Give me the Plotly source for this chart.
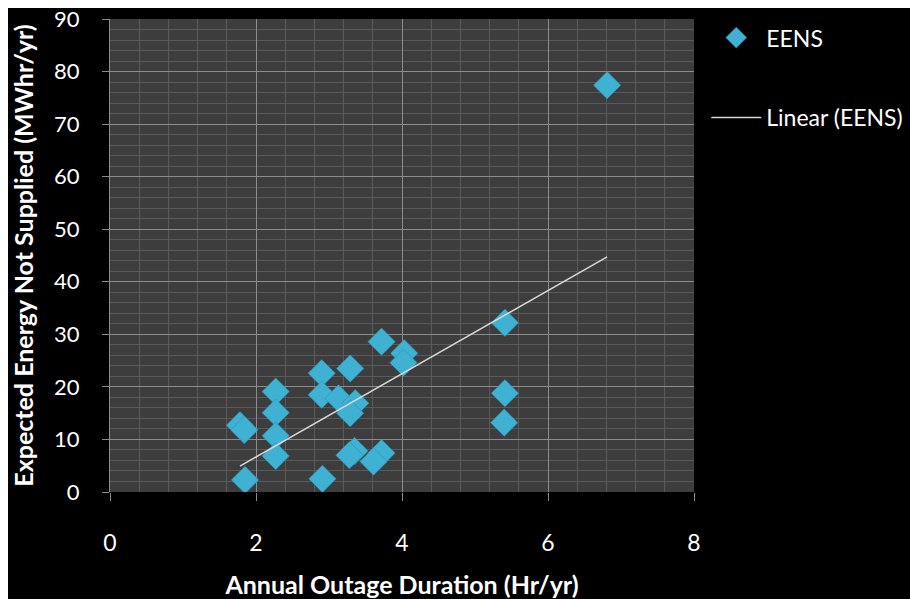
import numpy as np
import plotly.graph_objects as go

# Data
outage_hr = [6.81, 5.41, 5.41, 5.40, 3.72, 4.03, 4.02, 3.29, 2.90, 2.90, 3.13, 3.36, 3.29,
             2.27, 2.27, 2.27, 2.27, 1.78, 1.84, 1.85, 2.91, 3.35, 3.28, 3.72, 3.61]
eens_mwh = [77.4, 32.2, 18.8, 13.2, 28.6, 26.4, 24.6, 23.5, 22.6, 18.5, 17.8, 16.9, 15.0,
            19.1, 15.1, 10.7, 6.85, 12.7, 11.8, 2.3, 2.5, 7.8, 7.0, 7.4, 5.8]

x_ticks = [0, 2, 4, 6, 8]
y_ticks = [0, 10, 20, 30, 40, 50, 60, 70, 80, 90]

# Linear trend line fitted to the data
slope, intercept = np.polyfit(outage_hr, eens_mwh, 1)
trend_x = [min(outage_hr), max(outage_hr)]
trend_y = [slope * v + intercept for v in trend_x]

FONT = "Lato"
fig = go.Figure()
fig.add_trace(go.Scatter(
    x=outage_hr, y=eens_mwh, mode="markers", name="EENS", legendgroup="a",
    marker=dict(symbol="diamond", size=21, color="#3fb2d4",
                line=dict(width=0.6, color="#2b8fb0")),
))
fig.add_trace(go.Scatter(
    x=trend_x, y=trend_y, mode="lines", name="Linear (EENS)", legendgroup="b",
    line=dict(color="#d8d8d8", width=1.5),
))

fig.update_layout(
    width=902, height=591,
    paper_bgcolor="#000000", plot_bgcolor="#3d3d3d",
    margin=dict(l=102, r=216, t=11, b=107, autoexpand=False),
    font=dict(family=FONT, color="#ffffff", size=23),
    showlegend=True,
    legend=dict(x=1.021, xanchor="left", y=1.006, yanchor="top",
                bgcolor="rgba(0,0,0,0)", font=dict(size=23, family=FONT, color="#ffffff"),
                tracegroupgap=47, itemwidth=50),
)
fig.update_xaxes(
    range=[0, 8], tickvals=x_ticks, ticktext=[str(v) for v in x_ticks],
    showgrid=True, gridcolor="#8c8c8c", gridwidth=1,
    minor=dict(dtick=0.4, showgrid=True, gridcolor="#5a5a5a", gridwidth=1),
    ticks="outside", ticklen=8, tickcolor="#8c8c8c", ticklabelstandoff=22,
    showline=False, zeroline=False, automargin=False,
    title=dict(text="<b>Annual Outage Duration (Hr/yr)</b>", font=dict(size=25, family=FONT), standoff=28),
    tickfont=dict(size=23, family=FONT),
)
fig.update_yaxes(
    range=[0, 90], tickvals=y_ticks, ticktext=[str(v) for v in y_ticks],
    showgrid=True, gridcolor="#8c8c8c", gridwidth=1,
    minor=dict(dtick=2, showgrid=True, gridcolor="#5a5a5a", gridwidth=1),
    ticks="outside", ticklen=7, tickcolor="#8c8c8c", ticklabelstandoff=18,
    ticklabeloverflow="allow",
    showline=True, linecolor="#8c8c8c", linewidth=1, zeroline=False, automargin=False,
    title=dict(text="<b>Expected Energy Not Supplied (MWhr/yr)</b>", font=dict(size=25, family=FONT), standoff=14),
    tickfont=dict(size=22, family=FONT),
)

fig.write_html("out.html", post_script="document.body.style.margin='8px 0 0 8px';")
